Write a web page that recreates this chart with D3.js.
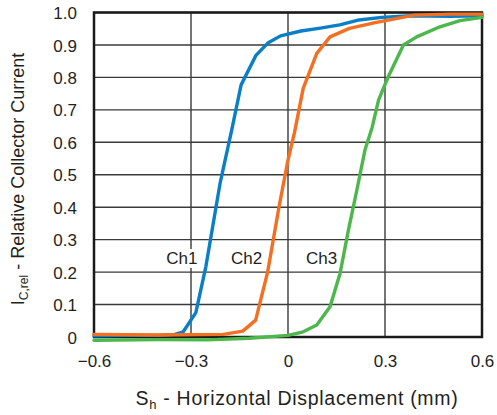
<!DOCTYPE html>
<html><head><meta charset="utf-8">
<script src="https://cdn.jsdelivr.net/npm/d3@7/dist/d3.min.js"></script>
<style>body{margin:0;background:#fff}svg{display:block}text{font-family:"Liberation Sans",Arial,sans-serif;fill:#231f20}</style>
</head><body><svg id="c" width="497" height="415"></svg>
<script>
const xTicks = [-0.6, -0.3, 0, 0.3, 0.6];
const yTicks = [0, 0.1, 0.2, 0.3, 0.4, 0.5, 0.6, 0.7, 0.8, 0.9, 1.0];
const seriesNames = ["Ch1", "Ch2", "Ch3"];
const ch1 = [[-0.6,0.004],[-0.5,0.005],[-0.4,0.005],[-0.35,0.008],[-0.324,0.016],[-0.285,0.075],[-0.254,0.217],[-0.21,0.474],[-0.174,0.638],[-0.145,0.777],[-0.099,0.868],[-0.061,0.907],[-0.023,0.928],[0.04,0.943],[0.1,0.952],[0.16,0.962],[0.22,0.977],[0.29,0.985],[0.38,0.99],[0.5,0.988],[0.6,0.99]];
const ch2 = [[-0.6,0.008],[-0.4,0.006],[-0.2,0.008],[-0.14,0.018],[-0.1,0.052],[-0.063,0.2],[-0.028,0.4],[0.0,0.545],[0.02,0.63],[0.047,0.766],[0.089,0.874],[0.13,0.925],[0.19,0.951],[0.27,0.969],[0.39,0.992],[0.5,0.995],[0.6,0.995]];
const ch3 = [[-0.6,-0.01],[-0.4,-0.008],[-0.25,-0.009],[-0.12,-0.004],[0.0,0.005],[0.047,0.016],[0.089,0.037],[0.13,0.093],[0.161,0.196],[0.187,0.33],[0.213,0.453],[0.238,0.576],[0.26,0.645],[0.28,0.73],[0.31,0.802],[0.357,0.9],[0.398,0.925],[0.47,0.956],[0.532,0.975],[0.6,0.985]];
const labelPos = [[-0.328,0.225],[-0.128,0.225],[0.104,0.225]];
const colors = ["#0a7ec6", "#f36f21", "#4cb74a"];

const svg = d3.select("#c");
const L=94, R=482, T=12.5, B=337;
const x = d3.scaleLinear().domain([-0.6,0.6]).range([L,R]);
const y = d3.scaleLinear().domain([0,1]).range([B,T]);

// gridlines
svg.append("g").selectAll("line").data(yTicks).join("line")
  .attr("x1",L).attr("x2",R).attr("y1",d=>y(d)).attr("y2",d=>y(d))
  .attr("stroke","#3a3a3a").attr("stroke-width",1.4);
svg.append("g").selectAll("line").data(xTicks).join("line")
  .attr("y1",T).attr("y2",B).attr("x1",d=>x(d)).attr("x2",d=>x(d))
  .attr("stroke","#3a3a3a").attr("stroke-width",1.4);

// labels with white background
const lg = svg.append("g");
seriesNames.forEach((n,i)=>{
  const t = lg.append("text").attr("x",x(labelPos[i][0])).attr("y",y(labelPos[i][1]))
    .attr("text-anchor","middle").attr("font-size",17).text(n);
  const bb = t.node().getBBox();
  lg.insert("rect","text").attr("x",bb.x-2).attr("y",bb.y).attr("width",bb.width+4).attr("height",bb.height).attr("fill","#fff");
});

// frame
svg.append("rect").attr("x",L).attr("y",T).attr("width",R-L).attr("height",B-T)
  .attr("fill","none").attr("stroke","#1a1a1a").attr("stroke-width",2.5);

// curves
const line = d3.line().x(d=>x(d[0])).y(d=>y(d[1]));
[ch1,ch2,ch3].forEach((s,i)=>{
  svg.append("path").attr("d",line(s)).attr("fill","none")
    .attr("stroke",colors[i]).attr("stroke-width",3.4).attr("stroke-linejoin","round").attr("stroke-linecap","round");
});

// axes labels
const xa = d3.axisBottom(x).tickValues(xTicks).tickSize(0).tickPadding(0).tickFormat(d=>d===0?"0":d3.format(".1f")(d));
const gx = svg.append("g").attr("transform",`translate(0,${B})`).call(xa);
gx.select(".domain").remove();
gx.selectAll("text").attr("font-size",17).attr("fill","#231f20").attr("dy",0).attr("y",30).style("font-family",'"Liberation Sans",Arial,sans-serif');

const ya = d3.axisLeft(y).tickValues(yTicks).tickSize(0).tickPadding(0).tickFormat(d=>d===0?"0":d3.format(".1f")(d));
const gy = svg.append("g").attr("transform",`translate(77,0)`).call(ya);
gy.select(".domain").remove();
gy.selectAll("text").attr("font-size",17).attr("fill","#231f20").attr("dy","0.36em").style("font-family",'"Liberation Sans",Arial,sans-serif');

// x title
const xt = svg.append("text").attr("x",297).attr("y",405).attr("text-anchor","middle").attr("font-size",19.5).attr("letter-spacing",0.7);
xt.append("tspan").text("S");
xt.append("tspan").attr("font-size",13).attr("dy",4).text("h");
xt.append("tspan").attr("dy",-4).text(" - Horizontal Displacement (mm)");

// y title
const yt = svg.append("text").attr("transform","translate(24,179) rotate(-90)").attr("text-anchor","middle").attr("font-size",18);
yt.append("tspan").text("I");
yt.append("tspan").attr("font-size",12).attr("dy",4).text("C,rel");
yt.append("tspan").attr("dy",-4).text(" - Relative Collector Current");
</script></body></html>
